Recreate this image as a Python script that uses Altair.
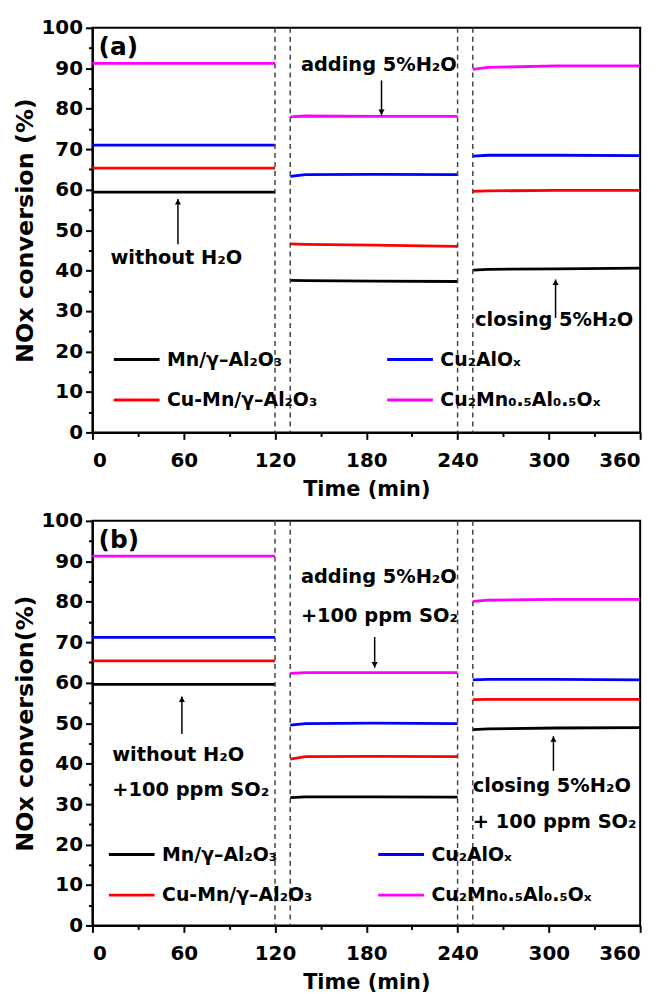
import altair as alt
import pandas as pd

FONT = "DejaVu Sans"

# ---------------- data ----------------
SERIES = ["Mn/γ–Al₂O₃", "Cu-Mn/γ–Al₂O₃", "Cu₂AlOₓ", "Cu₂Mn₀.₅Al₀.₅Oₓ"]
COLORS = ["#000000", "#ff0000", "#0000ff", "#ff00ff"]

# sampling times of the three measurement segments (min)
SEG_TIMES = [[0, 60, 120], [130, 140, 185, 240], [250, 260, 305, 360]]

# panel (a): without / adding 5% H2O / closing H2O
A_MN = [[59.4, 59.4, 59.4], [37.6, 37.5, 37.4, 37.3], [40.1, 40.3, 40.4, 40.6]]
A_CUMN = [[65.3, 65.3, 65.3], [46.6, 46.5, 46.3, 46.0], [59.6, 59.7, 59.8, 59.8]]
A_CUALOX = [[71.0, 71.0, 71.0], [63.3, 63.7, 63.8, 63.7], [68.3, 68.5, 68.5, 68.4]]
A_CUMNAL = [[91.2, 91.2, 91.2], [78.0, 78.2, 78.1, 78.1], [89.7, 90.2, 90.6, 90.6]]

# panel (b): with 5% H2O + 100 ppm SO2
B_MN = [[59.6, 59.6, 59.6], [31.6, 31.8, 31.8, 31.7], [48.4, 48.6, 48.8, 48.9]]
B_CUMN = [[65.4, 65.4, 65.4], [41.1, 41.7, 41.8, 41.7], [55.8, 55.9, 55.9, 55.9]]
B_CUALOX = [[71.2, 71.2, 71.2], [49.5, 49.9, 50.0, 49.9], [60.7, 60.8, 60.8, 60.7]]
B_CUMNAL = [[91.3, 91.3, 91.3], [62.3, 62.5, 62.5, 62.5], [80.1, 80.4, 80.6, 80.6]]

SWITCH_TIMES = [120, 130, 240, 250]

X_TICKS = list(range(0, 361, 30))
Y_TICKS = list(range(0, 101, 5))

# annotations (time, value position of text baseline-left)
A_NOTE_TEXT = ["without H₂O", "adding 5%H₂O", "closing 5%H₂O"]
A_NOTE_T = [11.8, 137, 251.5]
A_NOTE_V = [41.5, 89.4, 26.3]
A_ARROW_T = [56.2, 190, 304.4]
A_ARROW_TAIL = [46.5, 87.0, 28.3]
A_ARROW_HEAD = [57.7, 78.4, 37.8]

B_NOTE_TEXT = ["without H₂O", "+100 ppm SO₂", "adding 5%H₂O", "+100 ppm SO₂",
               "closing 5%H₂O", "+ 100 ppm SO₂"]
B_NOTE_T = [13, 13, 137, 137, 250, 250]
B_NOTE_V = [40.7, 31.9, 84.6, 75.0, 33.1, 24.0]
B_ARROW_T = [58.8, 185.5, 303]
B_ARROW_TAIL = [47.3, 71.3, 38.2]
B_ARROW_HEAD = [56.6, 63.7, 46.8]


def build_panel(tag, ytitle, series_vals, note_text, note_t, note_v,
                arrow_t, arrow_tail, arrow_head, leg_x, leg_y, col_pad):
    rows = []
    for name, segs in zip(SERIES, series_vals):
        for k, (ts, vs) in enumerate(zip(SEG_TIMES, segs)):
            for t, v in zip(ts, vs):
                rows.append({"series": name, "seg": f"{name}-{k}", "t": t, "v": v})
    df = pd.DataFrame(rows)

    notes = pd.DataFrame({"label": note_text, "t": note_t, "v": note_v})
    arrows = pd.DataFrame({"t": arrow_t, "tail": arrow_tail, "head": arrow_head})
    arrows["up"] = arrows["head"] > arrows["tail"]
    switches = pd.DataFrame({"t": SWITCH_TIMES})
    tagdf = pd.DataFrame({"label": [tag], "t": [4], "v": [95.2]})

    xscale = alt.Scale(domain=[0, 360], nice=False, zero=False)
    yscale = alt.Scale(domain=[0, 100], nice=False, zero=False)

    xaxis = alt.Axis(
        values=X_TICKS,
        labelExpr="datum.value % 60 == 0 ? datum.label : ''",
        tickSize={"condition": {"test": "datum.value % 60 != 0", "value": 4}, "value": 7},
        title="Time (min)",
        labelPadding=11,
        titlePadding=8,
        titleFontSize=21,
    )
    yaxis = alt.Axis(
        values=Y_TICKS,
        labelExpr="datum.value % 10 == 0 ? datum.label : ''",
        tickSize={"condition": {"test": "datum.value % 10 != 0", "value": 4}, "value": 7},
        title=ytitle,
        labelPadding=3,
        titlePadding=4,
        titleFontSize=24,
    )

    def X(field):
        return alt.X(field, type="quantitative", scale=xscale, axis=xaxis)

    def Y(field):
        return alt.Y(field, type="quantitative", scale=yscale, axis=yaxis)

    lines = alt.Chart(df).mark_line(strokeWidth=2.8).encode(
        x=X("t"),
        y=Y("v"),
        color=alt.Color(
            "series:N",
            scale=alt.Scale(domain=SERIES, range=COLORS),
            legend=alt.Legend(
                orient="none", legendX=leg_x, legendY=leg_y, columns=2,
                title=None, symbolType="stroke", symbolSize=2116,
                symbolStrokeWidth=3, labelFont=FONT, labelFontSize=19,
                labelFontWeight="bold", labelColor="black", labelOffset=6,
                labelLimit=0, columnPadding=col_pad, rowPadding=6, padding=0,
            ),
        ),
        detail="seg:N",
    )

    dashed = alt.Chart(switches).mark_rule(
        strokeDash=[5, 4], color="#444444", strokeWidth=1.5
    ).encode(x=X("t"))

    text = alt.Chart(notes).mark_text(
        align="left", baseline="alphabetic", font=FONT, fontSize=19.5,
        fontWeight="bold", color="black"
    ).encode(x=X("t"), y=Y("v"), text="label:N")

    tagtext = alt.Chart(tagdf).mark_text(
        align="left", baseline="middle", font=FONT, fontSize=25,
        fontWeight="bold", color="black"
    ).encode(x=X("t"), y=Y("v"), text="label:N")

    shafts = alt.Chart(arrows).mark_rule(color="black", strokeWidth=1.5).encode(
        x=X("t"), y=Y("tail"), y2="head:Q",
    )
    heads_up = alt.Chart(arrows).transform_filter("datum.up").mark_point(
        shape="triangle-up", filled=True, color="black", size=38, opacity=1, yOffset=3
    ).encode(x=X("t"), y=Y("head"))
    heads_down = alt.Chart(arrows).transform_filter("!datum.up").mark_point(
        shape="triangle-down", filled=True, color="black", size=38, opacity=1, yOffset=-3
    ).encode(x=X("t"), y=Y("head"))

    return alt.layer(lines, dashed, text, tagtext, shafts, heads_up, heads_down).properties(
        width=551, height=407
    )


panel_a = build_panel("(a)", "NOx conversion (%)",
                      [A_MN, A_CUMN, A_CUALOX, A_CUMNAL],
                      A_NOTE_TEXT, A_NOTE_T, A_NOTE_V,
                      A_ARROW_T, A_ARROW_TAIL, A_ARROW_HEAD,
                      leg_x=20, leg_y=309, col_pad=63)
panel_b = build_panel("(b)", "NOx conversion(%)",
                      [B_MN, B_CUMN, B_CUALOX, B_CUMNAL],
                      B_NOTE_TEXT, B_NOTE_T, B_NOTE_V,
                      B_ARROW_T, B_ARROW_TAIL, B_ARROW_HEAD,
                      leg_x=15, leg_y=311, col_pad=59)

chart = (
    alt.vconcat(panel_a, panel_b, spacing=10)
    .resolve_scale(color="independent")
    .properties(padding={"left": 12, "top": 14, "right": 20, "bottom": 0})
    .configure(font=FONT)
    .configure_view(stroke="black", strokeWidth=2)
    .configure_axis(
        grid=False,
        domainColor="black", domainWidth=2,
        tickColor="black", tickWidth=2,
        labelFont=FONT, labelFontSize=20, labelFontWeight="bold", labelColor="black",
        titleFont=FONT, titleFontWeight="bold", titleColor="black",
    )
)

chart.save("out.html", embed_options={"renderer": "svg", "actions": False})
